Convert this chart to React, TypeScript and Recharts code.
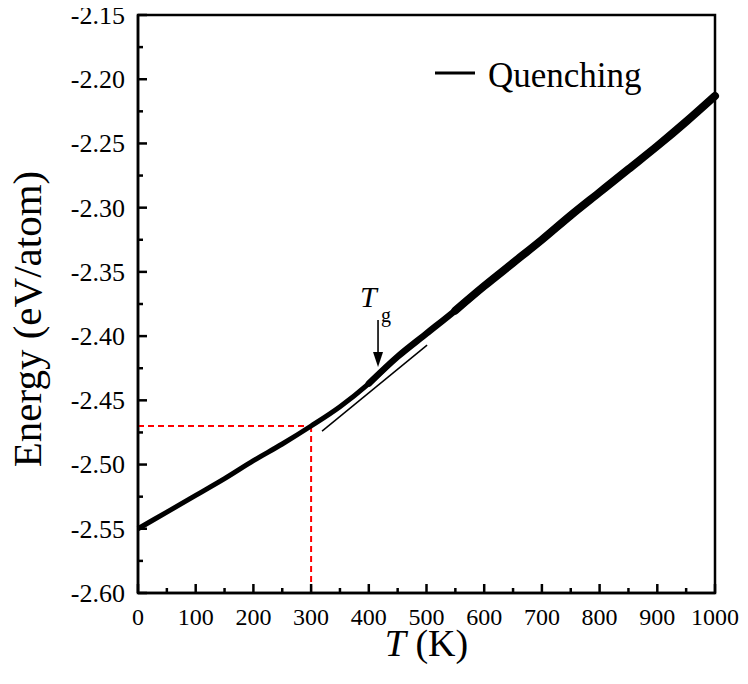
import React from 'react';
import {
  LineChart,
  Line,
  XAxis,
  YAxis,
  ReferenceLine,
  ReferenceArea,
  ReferenceDot,
  Legend,
} from 'recharts';

// ---- data ----
const temperatures = [0, 50, 100, 150, 200, 250, 300, 350, 400, 450, 500, 550, 600, 650, 700, 750, 800, 850, 900, 950, 1000];
const energies = [-2.55, -2.537, -2.524, -2.511, -2.497, -2.484, -2.47, -2.455, -2.437, -2.416, -2.398, -2.38, -2.361, -2.343, -2.325, -2.306, -2.288, -2.27, -2.252, -2.233, -2.213];

const tangentT = [319, 501];
const tangentE = [-2.474, -2.407];

const xTicks = [0, 50, 100, 150, 200, 250, 300, 350, 400, 450, 500, 550, 600, 650, 700, 750, 800, 850, 900, 950, 1000];
const yTicks = [-2.6, -2.575, -2.55, -2.525, -2.5, -2.475, -2.45, -2.425, -2.4, -2.375, -2.35, -2.325, -2.3, -2.275, -2.25, -2.225, -2.2, -2.175, -2.15];

const cooledT = 300;
const cooledE = -2.47;
const tgT = 416;
const tgE = -2.424;
const seriesName = 'Quenching';

const data = temperatures.map((t, i) => ({ T: t, E: energies[i] }));
const midData = data.filter((d) => d.T >= 400);
const upperData = data.filter((d) => d.T >= 550);
const tangentData = tangentT.map((t, i) => ({ T: t, E: tangentE[i] }));

const FONT = '"Liberation Serif", "Times New Roman", Times, serif';
const fontStyle = { fontFamily: FONT };
const Y_MARGIN = 13;
const X_MARGIN = 10;

function YTick(props: any) {
  const { x, y, payload } = props;
  const v = payload.value as number;
  const major = Math.abs(Math.round(v * 1000)) % 50 === 0;
  const ax = x + Y_MARGIN;
  return (
    <g>
      <line x1={ax} x2={ax + (major ? 9 : 5)} y1={y} y2={y} stroke="#000" strokeWidth={2.5} />
      {major && (
        <text x={x} y={y} dy="0.34em" textAnchor="end" fontSize={26} fontFamily={FONT} style={fontStyle} fill="#000">
          {v.toFixed(2)}
        </text>
      )}
    </g>
  );
}

function XTick(props: any) {
  const { x, y, payload } = props;
  const v = payload.value as number;
  const major = v % 100 === 0;
  const ay = y - X_MARGIN;
  return (
    <g>
      <line x1={x} x2={x} y1={ay} y2={ay - (major ? 9 : 5)} stroke="#000" strokeWidth={2.5} />
      {major && (
        <text x={x} y={ay + 32} textAnchor="middle" fontSize={24} fontFamily={FONT} style={fontStyle} fill="#000">
          {v}
        </text>
      )}
    </g>
  );
}

function YTitle(props: any) {
  const vb = props.viewBox || {};
  const cx = (vb.x ?? 0) + 33;
  const cy = (vb.y ?? 0) + (vb.height ?? 0) / 2 + 15;
  return (
    <text
      x={cx}
      y={cy}
      transform={`rotate(-90 ${cx} ${cy})`}
      textAnchor="middle"
      fontSize={41}
      fontFamily={FONT}
      style={fontStyle}
      fill="#000"
    >
      Energy (eV/atom)
    </text>
  );
}

function XTitle(props: any) {
  const vb = props.viewBox || {};
  const cx = (vb.x ?? 0) + (vb.width ?? 0) / 2;
  const cy = (vb.y ?? 0) + 63;
  return (
    <text x={cx} y={cy} textAnchor="middle" fontSize={38} fontFamily={FONT} style={fontStyle} fill="#000">
      <tspan fontStyle="italic">T</tspan>
      <tspan> (K)</tspan>
    </text>
  );
}

function TgMarker(props: any) {
  const { cx, cy } = props;
  if (cx == null || cy == null) return null;
  return (
    <g>
      <line x1={cx} x2={cx} y1={cy - 47} y2={cy - 12} stroke="#000" strokeWidth={1.6} />
      <polygon points={`${cx - 5},${cy - 15} ${cx + 5},${cy - 15} ${cx},${cy}`} fill="#000" />
      <text x={cx - 18} y={cy - 60} fontSize={30} fontStyle="italic" fontFamily={FONT} style={fontStyle} fill="#000">
        T
      </text>
      <text x={cx + 3} y={cy - 45} fontSize={20} fontFamily={FONT} style={fontStyle} fill="#000">
        g
      </text>
    </g>
  );
}

function LegendBox() {
  return (
    <svg width={240} height={44} style={{ display: 'block' }}>
      <line x1={7} x2={47} y1={19} y2={19} stroke="#000" strokeWidth={3} />
      <text x={60} y={33} fontSize={35} fontFamily={FONT} style={fontStyle} fill="#000">
        {seriesName}
      </text>
    </svg>
  );
}

export default function App() {
  return (
    <div style={{ width: 732, height: 668, fontFamily: FONT }}>
      <LineChart
        width={732}
        height={668}
        data={data}
        margin={{ top: 7, right: 25, left: 0, bottom: 0 }}
      >
        <XAxis
          dataKey="T"
          type="number"
          domain={[0, 1000]}
          ticks={xTicks}
          interval={0}
          height={83}
          tickSize={0}
          tickMargin={X_MARGIN}
          tickLine={false}
          tick={(p: any) => <XTick {...p} />}
          axisLine={{ stroke: '#000', strokeWidth: 2.5 }}
          label={(p: any) => <XTitle {...p} />}
        />
        <YAxis
          type="number"
          domain={[-2.6, -2.15]}
          ticks={yTicks}
          interval={0}
          width={130}
          tickSize={0}
          tickMargin={Y_MARGIN}
          tickLine={false}
          tick={(p: any) => <YTick {...p} />}
          axisLine={{ stroke: '#000', strokeWidth: 2.5 }}
          label={(p: any) => <YTitle {...p} />}
        />
        <ReferenceArea
          x1={0}
          x2={1000}
          y1={-2.6}
          y2={-2.15}
          fill="none"
          fillOpacity={0}
          stroke="#000"
          strokeWidth={2.5}
        />
        <ReferenceLine
          segment={[{ x: 0, y: cooledE }, { x: cooledT, y: cooledE }]}
          stroke="#ff0000"
          strokeWidth={2}
          strokeDasharray="6 4"
        />
        <ReferenceLine
          segment={[{ x: cooledT, y: cooledE }, { x: cooledT, y: -2.6 }]}
          stroke="#ff0000"
          strokeWidth={2}
          strokeDasharray="6 4"
        />
        <Line
          name={seriesName}
          dataKey="E"
          type="monotone"
          stroke="#000"
          strokeWidth={5}
          dot={false}
          isAnimationActive={false}
        />
        <Line
          data={midData}
          dataKey="E"
          type="monotone"
          stroke="#000"
          strokeWidth={6.5}
          strokeLinecap="round"
          dot={false}
          legendType="none"
          isAnimationActive={false}
        />
        <Line
          data={upperData}
          dataKey="E"
          type="monotone"
          stroke="#000"
          strokeWidth={8}
          strokeLinecap="round"
          dot={false}
          legendType="none"
          isAnimationActive={false}
        />
        <Line
          data={tangentData}
          dataKey="E"
          type="linear"
          stroke="#000"
          strokeWidth={1.5}
          dot={false}
          legendType="none"
          isAnimationActive={false}
        />
        <ReferenceDot x={tgT} y={tgE} r={0} shape={(p: any) => <TgMarker {...p} />} />
        <Legend
          layout="vertical"
          align="center"
          verticalAlign="middle"
          wrapperStyle={{ position: 'absolute', left: 420, top: 46, width: 240, height: 44 }}
          content={() => <LegendBox />}
        />
      </LineChart>
    </div>
  );
}
